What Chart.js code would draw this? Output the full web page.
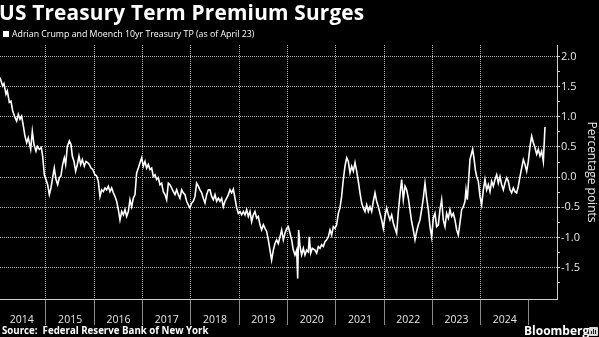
<!DOCTYPE html>
<html>
<head>
<meta charset="utf-8">
<script src="https://cdn.jsdelivr.net/npm/chart.js@4.4.1/dist/chart.umd.min.js"></script>
<style>
  html, body { margin: 0; padding: 0; background: #000; }
  #wrap { position: relative; width: 599px; height: 337px; overflow: hidden; background: #000;
          font-family: "Open Sans", "DejaVu Sans", sans-serif; color: #fff; }
  #chart { position: absolute; left: 0; top: 0; }
  .title { position: absolute; left: -1px; top: -2px; font-size: 20.8px; font-weight: 700;
           white-space: nowrap; line-height: 28px; letter-spacing: 0.2px; }
  .legend { position: absolute; left: 3px; top: 27px; font-size: 8.8px; line-height: 14px;
            white-space: nowrap; color: #fff; }
  .legend .sw { display: inline-block; width: 6px; height: 6px; background: #fff;
                margin-right: 3px; vertical-align: 0px; }
  .source { position: absolute; left: 2px; top: 324px; font-size: 9.7px; font-weight: 700;
            line-height: 14px; white-space: nowrap; color: #fff; }
  .brand { position: absolute; left: 524px; top: 323px; font-size: 12px; font-weight: 700;
           line-height: 16px; white-space: nowrap; color: #fff; }
  .logo { position: absolute; left: 589px; top: 327px; width: 9px; height: 9px; background: #d8d8d8;
          border-radius: 1px; }
  .logo i { position: absolute; bottom: 2px; width: 1px; background: #222; }
</style>
</head>
<body>
<div id="wrap">
  <canvas id="chart" width="599" height="337"></canvas>
  <div class="title">US Treasury Term Premium Surges</div>
  <div class="legend"><span class="sw"></span>Adrian Crump and Moench 10yr Treasury TP (as of April 23)</div>
  <div class="source">Source:&nbsp; Federal Reserve Bank of New York</div>
  <div class="brand">Bloomberg</div>
  <div class="logo"><i style="left:2px;height:3px"></i><i style="left:4px;height:5px"></i><i style="left:6px;height:4px"></i></div>
</div>
<script>
// ACM 10-year term premium, percentage points, dated in decimal years
const dates = [
  2014.048, 2014.103, 2014.130, 2014.172, 2014.199, 2014.241, 2014.275, 2014.310, 2014.358, 2014.393,
  2014.427, 2014.462, 2014.496, 2014.531, 2014.565, 2014.600, 2014.634, 2014.683, 2014.717, 2014.752,
  2014.793, 2014.821, 2014.862, 2014.903, 2014.931, 2014.966, 2015.000, 2015.035, 2015.069, 2015.103,
  2015.138, 2015.172, 2015.207, 2015.242, 2015.276, 2015.310, 2015.345, 2015.380, 2015.407, 2015.442,
  2015.483, 2015.518, 2015.545, 2015.580, 2015.614, 2015.649, 2015.683, 2015.718, 2015.752, 2015.794,
  2015.828, 2015.863, 2015.897, 2015.932, 2015.966, 2016.014, 2016.049, 2016.083, 2016.118, 2016.153,
  2016.187, 2016.222, 2016.256, 2016.291, 2016.325, 2016.360, 2016.394, 2016.429, 2016.463, 2016.498,
  2016.532, 2016.567, 2016.601, 2016.636, 2016.670, 2016.705, 2016.739, 2016.774, 2016.808, 2016.843,
  2016.877, 2016.912, 2016.946, 2016.981, 2017.015, 2017.050, 2017.084, 2017.119, 2017.153, 2017.188,
  2017.222, 2017.257, 2017.291, 2017.326, 2017.360, 2017.395, 2017.429, 2017.464, 2017.498, 2017.533,
  2017.567, 2017.602, 2017.636, 2017.671, 2017.705, 2017.740, 2017.774, 2017.809, 2017.843, 2017.878,
  2017.912, 2017.947, 2017.981, 2018.016, 2018.050, 2018.085, 2018.119, 2018.154, 2018.188, 2018.223,
  2018.257, 2018.292, 2018.326, 2018.361, 2018.395, 2018.430, 2018.464, 2018.499, 2018.533, 2018.568,
  2018.603, 2018.637, 2018.672, 2018.706, 2018.741, 2018.775, 2018.810, 2018.844, 2018.879, 2018.913,
  2018.948, 2018.982, 2019.017, 2019.051, 2019.086, 2019.120, 2019.155, 2019.189, 2019.224, 2019.258,
  2019.293, 2019.327, 2019.362, 2019.396, 2019.431, 2019.465, 2019.500, 2019.534, 2019.569, 2019.603,
  2019.638, 2019.672, 2019.707, 2019.741, 2019.776, 2019.810, 2019.845, 2019.879, 2019.914, 2019.948,
  2019.983, 2020.017, 2020.052, 2020.086, 2020.121, 2020.155, 2020.190, 2020.211, 2020.231, 2020.259,
  2020.293, 2020.328, 2020.362, 2020.397, 2020.431, 2020.452, 2020.480, 2020.514, 2020.569, 2020.604,
  2020.638, 2020.673, 2020.707, 2020.742, 2020.776, 2020.811, 2020.845, 2020.880, 2020.914, 2020.949,
  2020.983, 2021.018, 2021.052, 2021.087, 2021.121, 2021.156, 2021.190, 2021.225, 2021.260, 2021.294,
  2021.329, 2021.363, 2021.398, 2021.432, 2021.467, 2021.501, 2021.536, 2021.570, 2021.605, 2021.639,
  2021.674, 2021.708, 2021.743, 2021.777, 2021.812, 2021.846, 2021.881, 2021.915, 2021.950, 2021.984,
  2022.019, 2022.053, 2022.088, 2022.122, 2022.157, 2022.191, 2022.226, 2022.260, 2022.295, 2022.329,
  2022.364, 2022.398, 2022.433, 2022.467, 2022.502, 2022.536, 2022.571, 2022.605, 2022.640, 2022.674,
  2022.709, 2022.743, 2022.778, 2022.812, 2022.847, 2022.881, 2022.916, 2022.950, 2022.985, 2023.019,
  2023.054, 2023.088, 2023.123, 2023.157, 2023.192, 2023.226, 2023.261, 2023.295, 2023.330, 2023.364,
  2023.399, 2023.433, 2023.468, 2023.502, 2023.537, 2023.571, 2023.606, 2023.641, 2023.675, 2023.696,
  2023.723, 2023.751, 2023.778, 2023.813, 2023.834, 2023.861, 2023.889, 2023.917, 2023.951, 2023.986,
  2024.020, 2024.055, 2024.089, 2024.124, 2024.158, 2024.193, 2024.227, 2024.262, 2024.296, 2024.331,
  2024.365, 2024.400, 2024.434, 2024.469, 2024.503, 2024.538, 2024.572, 2024.607, 2024.641, 2024.676,
  2024.710, 2024.745, 2024.779, 2024.814, 2024.848, 2024.883, 2024.917, 2024.952, 2024.986, 2025.021,
  2025.055, 2025.090, 2025.124, 2025.159, 2025.193, 2025.228, 2025.262, 2025.297, 2025.331
];
const termPremium = [
  1.65, 1.51, 1.55, 1.375, 1.43, 1.24, 1.26, 1.10, 0.99, 0.93,
  1.04, 0.96, 1.01, 0.85, 0.68, 0.57, 0.65, 0.46, 0.76, 0.54,
  0.43, 0.51, 0.46, 0.49, 0.35, 0.04, -0.04, -0.125, -0.29, -0.18,
  -0.01, 0.15, -0.04, -0.125, -0.01, 0.02, 0.21, 0.32, 0.21, 0.51,
  0.60, 0.54, 0.35, 0.26, 0.10, 0.21, 0.35, 0.21, 0.29, 0.18,
  0.26, 0.24, 0.21, 0.15, 0.13, 0.04, 0.02, -0.07, -0.32, -0.21,
  -0.24, -0.18, -0.21, -0.15, -0.24, -0.18, -0.26, -0.32, -0.40, -0.54,
  -0.71, -0.57, -0.625, -0.54, -0.65, -0.57, -0.375, -0.49, -0.35, -0.29,
  0.07, 0.15, 0.24, 0.32, 0.18, 0.26, 0.15, 0.21, 0.125, 0.15,
  0.01, 0.04, -0.04, -0.01, -0.125, -0.10, -0.24, -0.29, -0.375, -0.10,
  -0.125, -0.18, -0.24, -0.29, -0.21, -0.29, -0.35, -0.21, -0.26, -0.29,
  -0.40, -0.46, -0.51, -0.43, -0.40, -0.32, -0.10, -0.15, -0.21, -0.26,
  -0.35, -0.43, -0.29, -0.21, -0.21, -0.32, -0.375, -0.29, -0.40, -0.35,
  -0.40, -0.35, -0.49, -0.40, -0.35, -0.29, -0.21, -0.26, -0.20, -0.35,
  -0.51, -0.60, -0.57, -0.625, -0.57, -0.625, -0.54, -0.65, -0.57, -0.74,
  -0.625, -0.57, -0.68, -0.65, -0.79, -0.875, -0.79, -0.85, -0.90, -1.04,
  -1.21, -1.375, -1.21, -1.10, -1.04, -1.10, -0.99, -0.875, -1.04, -0.93,
  -0.85, -0.82, -0.93, -1.04, -1.21, -1.29, -1.21, -1.68, -0.875, -1.15,
  -1.29, -1.18, -1.29, -1.21, -1.24, -0.99, -1.26, -1.18, -1.21, -1.26,
  -1.15, -1.18, -1.12, -1.15, -1.07, -1.04, -0.99, -0.875, -0.96, -0.82,
  -0.85, -0.79, -0.60, -0.51, -0.32, -0.04, 0.18, 0.32, 0.26, 0.07,
  0.18, 0.10, 0.24, 0.10, -0.07, -0.26, -0.43, -0.51, -0.57, -0.46,
  -0.57, -0.49, -0.57, -0.40, -0.26, -0.40, -0.49, -0.60, -0.71, -0.85,
  -0.65, -0.51, -0.625, -0.71, -0.625, -0.76, -0.85, -0.93, -0.57, -0.29,
  -0.04, -0.375, -0.15, -0.21, -0.35, -0.54, -0.74, -0.875, -1.04, -0.90,
  -0.79, -0.71, -0.54, -0.35, -0.10, -0.35, -0.54, -0.82, -0.99, -0.68,
  -0.60, -0.82, -0.79, -0.54, -0.375, -0.71, -0.82, -0.60, -0.68, -0.54,
  -0.65, -0.60, -0.71, -0.875, -0.96, -0.76, -0.54, -0.49, -0.40, -0.21,
  -0.375, -0.04, 0.29, 0.40, 0.46, 0.32, 0.125, 0.01, -0.07, -0.32,
  -0.46, -0.21, -0.04, -0.21, -0.125, -0.24, -0.07, -0.15, -0.04, 0.04,
  -0.10, 0.01, -0.125, -0.21, -0.10, -0.01, -0.07, -0.21, -0.26, -0.18,
  -0.24, -0.26, -0.15, 0.01, 0.15, 0.29, 0.21, 0.10, 0.26, 0.51,
  0.68, 0.57, 0.49, 0.38, 0.46, 0.35, 0.43, 0.26, 0.83
];

// Axis labels
const yearLabels = [2014, 2015, 2016, 2017, 2018, 2019, 2020, 2021, 2022, 2023, 2024];
const yMajorTicks = [-1.5, -1.0, -0.5, 0, 0.5, 1.0, 1.5, 2.0];
const yMinorTicks = [-1.75, -1.25, -0.75, -0.25, 0.25, 0.75, 1.25, 1.75];

const X_MIN = 2014.048, X_MAX = 2025.58;
const Y_MIN = -2.02, Y_MAX = 2.19;

const gridColor = '#b4b4b4';
const axisColor = '#cfcfcf';
const sepColor = '#8a8a8a';
const labelColor = '#e6e6e6';
const gridDash = [1, 1];

const points = dates.map((d, i) => ({ x: d, y: termPremium[i] }));

const isWhole = v => Math.abs(v - Math.round(v)) < 1e-9;
const isMajorY = v => yMajorTicks.some(t => Math.abs(t - v) < 1e-9);

new Chart(document.getElementById('chart'), {
  type: 'line',
  data: {
    datasets: [{
      data: points,
      borderColor: '#ffffff',
      borderWidth: 1.6,
      pointRadius: 0,
      tension: 0,
      fill: false
    }]
  },
  options: {
    responsive: false,
    animation: false,
    layout: { padding: { top: 45, left: 0, right: 0, bottom: 12 } },
    plugins: { legend: { display: false }, tooltip: { enabled: false }, title: { display: false } },
    scales: {
      x: {
        type: 'linear',
        min: X_MIN,
        max: X_MAX,
        afterBuildTicks: s => {
          const vals = [];
          yearLabels.forEach(y => { vals.push(y + 0.5); vals.push(y + 1); });
          s.ticks = vals.map(v => ({ value: v }));
        },
        afterFit: s => { s.height = 26; },
        ticks: {
          autoSkip: false,
          maxRotation: 0,
          padding: -11.5,
          color: labelColor,
          font: { family: '"Open Sans", sans-serif', size: 10.5 },
          callback: v => (isWhole(v) ? '' : String(Math.floor(v)))
        },
        grid: {
          display: true,
          drawOnChartArea: true,
          drawTicks: true,
          tickLength: 26,
          color: ctx => {
            const v = ctx.tick ? ctx.tick.value : 0;
            return (isWhole(v) && v < 2025) ? gridColor : 'rgba(0,0,0,0)';
          },
          tickColor: ctx => {
            const v = ctx.tick ? ctx.tick.value : 0;
            return isWhole(v) ? sepColor : 'rgba(0,0,0,0)';
          },
          borderDash: gridDash,
          tickBorderDash: [],
          lineWidth: 1
        },
        border: { display: true, color: axisColor, width: 1, dash: gridDash }
      },
      y: {
        type: 'linear',
        position: 'right',
        min: Y_MIN,
        max: Y_MAX,
        afterBuildTicks: s => {
          s.ticks = yMajorTicks.concat(yMinorTicks).sort((a, b) => a - b).map(v => ({ value: v }));
        },
        afterFit: s => { s.width = 42; },
        ticks: {
          padding: 1,
          color: labelColor,
          font: { family: '"Open Sans", sans-serif', size: 11 },
          callback: v => (isMajorY(v) ? v.toFixed(1) : '')
        },
        grid: {
          display: true,
          drawOnChartArea: true,
          drawTicks: true,
          tickLength: 3,
          color: ctx => {
            const v = ctx.tick ? ctx.tick.value : 0;
            return isMajorY(v) ? gridColor : 'rgba(0,0,0,0)';
          },
          tickColor: axisColor,
          borderDash: gridDash,
          tickBorderDash: [],
          lineWidth: 1
        },
        border: { display: true, color: axisColor, width: 1, dash: gridDash },
        title: {
          display: true,
          text: 'Percentage points',
          color: labelColor,
          padding: 0,
          font: { family: '"Open Sans", sans-serif', size: 12 }
        }
      }
    }
  }
});
</script>
</body>
</html>
